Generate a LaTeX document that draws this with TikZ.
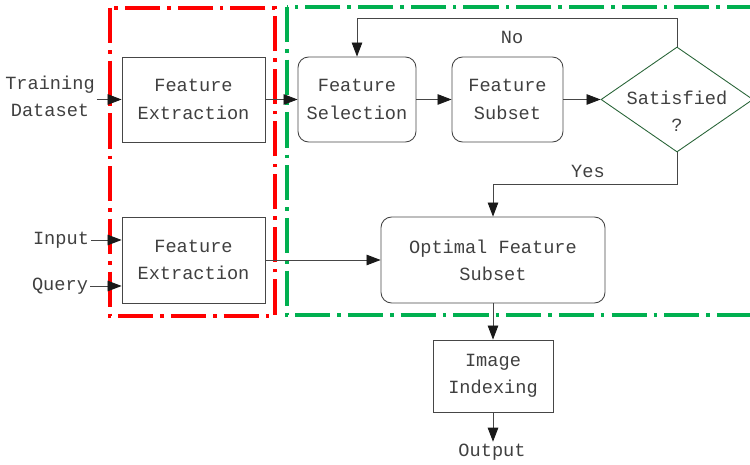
\documentclass[tikz,border=0pt]{standalone}
\usepackage{fontspec}
\setmainfont{Liberation Mono}
\usepackage{tikz}
\usetikzlibrary{arrows.meta,positioning,calc,shapes.geometric}
\definecolor{zonered}{RGB}{255,0,0}
\definecolor{zonegreen}{RGB}{0,176,80}
\definecolor{edgegray}{RGB}{70,70,70}
\definecolor{diagreen}{RGB}{40,100,55}
\tikzstyle{block}=[draw=edgegray,line width=0.5pt,rectangle,minimum height=1.7cm,align=center,inner sep=0pt]
\tikzstyle{roundblock}=[block,rounded corners=6pt]
\tikzstyle{decision}=[draw=diagreen,line width=0.5pt,diamond,minimum width=3.04cm,minimum height=2.1cm,inner sep=0pt]
\tikzstyle{lbl}=[align=center,inner sep=1pt]
\tikzstyle{arr}=[draw=edgegray,line width=0.5pt,-{Triangle[length=8pt,width=6pt,color=black!90]}]
\tikzstyle{zone}=[line width=2pt,dash pattern=on 20pt off 4pt on 2pt off 4pt]

\begin{document}
\begin{tikzpicture}[x=0.02cm,y=-0.02cm,font=\fontsize{10.6pt}{15.5pt}\selectfont,text=black!75]
\useasboundingbox (0,0) rectangle (750,465);

% the two stages
\draw[zone,zonered] (110,8) rectangle (275,316);
\draw[zone,zonegreen] (287,7) rectangle (770,315);

% boxes
\node[block,minimum width=2.86cm] (fe1) at (193.5,99.5) {Feature\\Extraction};
\node[roundblock,minimum width=2.36cm] (sel) at (357,99.5) {Feature\\Selection};
\node[roundblock,minimum width=2.22cm] (sub) at (507.5,99.5) {Feature\\Subset};
\node[decision] (dec) at (677,99.5) {};
\node[lbl] (sat) at (677,111) {Satisfied\\?};
\node[block,minimum width=2.86cm,minimum height=1.72cm] (fe2) at (193.5,260) {Feature\\Extraction};
\node[roundblock,minimum width=4.48cm,minimum height=1.72cm] (opt) at (493,260) {Optimal Feature\\Subset};
\node[block,minimum width=2.4cm,minimum height=1.44cm] (idx) at (493,376) {Image\\Indexing};

% inputs and outputs
\node[lbl] (train) at (50,96) {Training\\Dataset};
\node[lbl] (input) at (61,240) {Input};
\node[lbl] (query) at (60,286) {Query};
\node[lbl] (out) at (492,452) {Output};

% connectors
\draw[arr] (fe1.west -| train.east) -- (fe1.west);
\draw[arr] (input.east) -- (input.east -| fe2.west);
\draw[arr] (query.east) -- (query.east -| fe2.west);
\draw[arr] (fe1) -- (sel);
\draw[arr] (sel) -- (sub);
\draw[arr] (sub) -- (dec);
\draw[arr] (dec.north) -- ++(0,-28) -| (sel.north);
\draw[arr] (dec.south) -- ++(0,32) -| (opt.north);
\draw[arr] (fe2) -- (opt);
\draw[arr] (opt) -- (idx);
\draw[arr] (idx) -- (idx |- out.north);

\node[lbl] (no) at (512,37) {No};
\node[lbl] (yes) at (588,171) {Yes};
\end{tikzpicture}
\end{document}
